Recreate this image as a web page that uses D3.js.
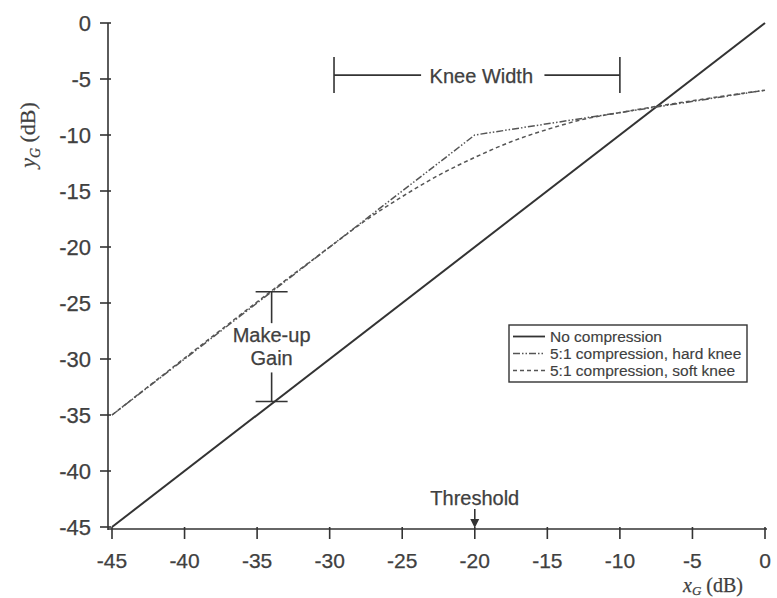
<!DOCTYPE html>
<html>
<head>
<meta charset="utf-8">
<script src="https://d3js.org/d3.v7.min.js"></script>
<style>
  body { margin: 0; background: #fff; }
  svg text { font-family: "Liberation Sans", Arial, sans-serif; fill: #404040; stroke: #404040; stroke-width: 0.25px; }
  .lbl { font-family: "Liberation Serif", "DejaVu Serif", serif !important; }
</style>
</head>
<body>
<div id="chart"></div>
<script>
// axis ticks
var xTicks = [-45, -40, -35, -30, -25, -20, -15, -10, -5, 0];
var yTicks = [0, -5, -10, -15, -20, -25, -30, -35, -40, -45];

// curves
var noCompX = [-45, 0];
var noCompY = [-45, 0];
var hardX = [-45, -20, 0];
var hardY = [-35, -10, -6];
var softX = [-45, -30, -27.5, -25, -22.5, -20, -17.5, -15, -12.5, -10, 0];
var softY = [-35, -20, -17.6, -15.5, -13.6, -12, -10.6, -9.5, -8.6, -8, -6];

var seriesNames = ["No compression", "5:1 compression, hard knee", "5:1 compression, soft knee"];
var dashes = [null, "7,2,1.5,2,1.5,2", "4,3"];

var width = 777, height = 598;
var svg = d3.select("#chart").append("svg")
    .attr("width", width).attr("height", height);

var x = d3.scaleLinear().domain([-45, 0]).range([112, 765]);
var y = d3.scaleLinear().domain([-45, 0]).range([527, 23]);

var ink = "#333";

// y axis
svg.append("line").attr("x1", 108).attr("x2", 108)
   .attr("y1", y(0)).attr("y2", 530).attr("stroke", ink).attr("stroke-width", 1.6);
svg.selectAll(".yt").data(yTicks).enter().append("line")
   .attr("x1", 100).attr("x2", 111)
   .attr("y1", function(d) { return y(d); }).attr("y2", function(d) { return y(d); })
   .attr("stroke", ink).attr("stroke-width", 1.6);
svg.selectAll(".yl").data(yTicks).enter().append("text")
   .attr("x", 91).attr("y", function(d) { return y(d) + 8; })
   .attr("text-anchor", "end").style("font-size", "22px")
   .text(function(d) { return d; });

// x axis
svg.append("line").attr("x1", 108).attr("x2", 767)
   .attr("y1", 529).attr("y2", 529).attr("stroke", ink).attr("stroke-width", 1.6);
svg.selectAll(".xt").data(xTicks).enter().append("line")
   .attr("x1", function(d) { return x(d); }).attr("x2", function(d) { return x(d); })
   .attr("y1", 527).attr("y2", 539)
   .attr("stroke", ink).attr("stroke-width", 1.6);
svg.selectAll(".xl").data(xTicks).enter().append("text")
   .attr("x", function(d) { return x(d); }).attr("y", 568)
   .attr("text-anchor", "middle").style("font-size", "21px")
   .text(function(d) { return d; });

// axis labels
var yl = svg.append("text").attr("class", "lbl")
   .attr("transform", "translate(35,135) rotate(-90)")
   .attr("text-anchor", "middle").style("font-size", "22px");
yl.append("tspan").style("font-style", "italic").text("y");
yl.append("tspan").style("font-style", "italic").style("font-size", "14px").attr("dy", 5).text("G");
yl.append("tspan").attr("dy", -5).text(" (dB)");

var xl = svg.append("text").attr("class", "lbl")
   .attr("x", 713).attr("y", 592)
   .attr("text-anchor", "middle").style("font-size", "20px");
xl.append("tspan").style("font-style", "italic").text("x");
xl.append("tspan").style("font-style", "italic").style("font-size", "13px").attr("dy", 3).text("G");
xl.append("tspan").attr("dy", -3).text(" (dB)");

// curves
var line = d3.line()
    .x(function(d) { return x(d[0]); })
    .y(function(d) { return y(d[1]); });
var softLine = d3.line()
    .x(function(d) { return x(d[0]); })
    .y(function(d) { return y(d[1]); })
    .curve(d3.curveMonotoneX);

svg.append("path").attr("d", line(d3.zip(noCompX, noCompY)))
   .attr("fill", "none").attr("stroke", ink).attr("stroke-width", 2);
svg.append("path").attr("d", line(d3.zip(hardX, hardY)))
   .attr("fill", "none").attr("stroke", "#555").attr("stroke-width", 1.5)
   .attr("stroke-dasharray", dashes[1]);
svg.append("path").attr("d", softLine(d3.zip(softX, softY)))
   .attr("fill", "none").attr("stroke", "#555").attr("stroke-width", 1.5)
   .attr("stroke-dasharray", dashes[2]);

// knee width annotation
var ky = y(-4.65);
svg.append("line").attr("x1", x(-29.7)).attr("x2", x(-23.7)).attr("y1", ky).attr("y2", ky)
   .attr("stroke", ink).attr("stroke-width", 1.6);
svg.append("line").attr("x1", x(-15.2)).attr("x2", x(-10)).attr("y1", ky).attr("y2", ky)
   .attr("stroke", ink).attr("stroke-width", 1.6);
[-29.7, -10].forEach(function(v) {
  svg.append("line").attr("x1", x(v)).attr("x2", x(v)).attr("y1", ky - 18).attr("y2", ky + 18)
     .attr("stroke", ink).attr("stroke-width", 1.6);
});
svg.append("text").attr("x", x(-19.55)).attr("y", ky + 8)
   .attr("text-anchor", "middle").style("font-size", "20px").text("Knee Width");

// make-up gain annotation
var mx = x(-34);
svg.append("line").attr("x1", mx).attr("x2", mx).attr("y1", y(-24)).attr("y2", y(-26.8))
   .attr("stroke", ink).attr("stroke-width", 1.6);
svg.append("line").attr("x1", mx).attr("x2", mx).attr("y1", y(-31.2)).attr("y2", y(-33.8))
   .attr("stroke", ink).attr("stroke-width", 1.6);
[-24, -33.8].forEach(function(v) {
  svg.append("line").attr("x1", mx - 16).attr("x2", mx + 16).attr("y1", y(v)).attr("y2", y(v))
     .attr("stroke", ink).attr("stroke-width", 1.6);
});
svg.append("text").attr("x", mx).attr("y", y(-28.5)).attr("text-anchor", "middle")
   .style("font-size", "20px").text("Make-up");
svg.append("text").attr("x", mx).attr("y", y(-30.5)).attr("text-anchor", "middle")
   .style("font-size", "20px").text("Gain");

// threshold marker
var tx = x(-20);
svg.append("text").attr("x", tx).attr("y", 505).attr("text-anchor", "middle")
   .style("font-size", "20px").text("Threshold");
svg.append("line").attr("x1", tx).attr("x2", tx).attr("y1", 509).attr("y2", 524)
   .attr("stroke", ink).attr("stroke-width", 1.6);
svg.append("path").attr("d", "M" + (tx - 4.5) + ",519L" + (tx + 4.5) + ",519L" + tx + ",528Z")
   .attr("fill", ink);

// legend
var lg = svg.append("g").attr("transform", "translate(509,325)");
lg.append("rect").attr("width", 238).attr("height", 57)
   .attr("fill", "#fff").attr("stroke", ink).attr("stroke-width", 1.4);
seriesNames.forEach(function(n, i) {
  var ry = 11.5 + i * 17;
  lg.append("line").attr("x1", 4).attr("x2", 36).attr("y1", ry).attr("y2", ry)
    .attr("stroke", i === 0 ? ink : "#555").attr("stroke-width", i === 0 ? 1.8 : 1.3)
    .attr("stroke-dasharray", dashes[i]);
  lg.append("text").attr("x", 41).attr("y", ry + 5.5)
    .style("font-size", "15.5px").style("stroke-width", "0.15px").text(n);
});
</script>
</body>
</html>
